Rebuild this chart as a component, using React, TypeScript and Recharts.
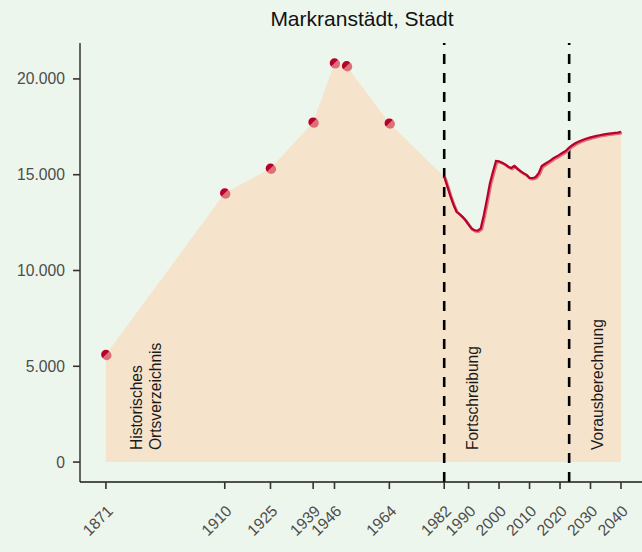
import React from 'react';
import { ComposedChart, Area, Line, XAxis, YAxis, ReferenceLine, ReferenceDot } from 'recharts';

const histYears = [1871, 1910, 1925, 1939, 1946, 1950, 1964];
const histPop = [5610, 14040, 15330, 17740, 20830, 20680, 17690];

const fortYears = [
  1982, 1983, 1984, 1985, 1986, 1987, 1988, 1989, 1990, 1991, 1992, 1993, 1994, 1995, 1996, 1997, 1998, 1999,
  2000, 2001, 2002, 2003, 2004, 2005, 2006, 2007, 2008, 2009, 2010, 2011, 2012, 2013, 2014, 2015, 2016, 2017,
  2018, 2019, 2020, 2021, 2022, 2023, 2024, 2025, 2026, 2027, 2028, 2029, 2030, 2031, 2032, 2033, 2034, 2035,
  2036, 2037, 2038, 2039, 2040,
];
const fortPop = [
  14900, 14400, 13900, 13450, 13080, 12950, 12800, 12620, 12400, 12180, 12100, 12080, 12200, 12900, 13700, 14550, 15150, 15720,
  15700, 15630, 15540, 15420, 15350, 15460, 15320, 15190, 15080, 14990, 14830, 14820, 14880, 15080, 15450, 15560, 15660, 15760,
  15880, 15960, 16060, 16160, 16260, 16420, 16540, 16640, 16720, 16790, 16850, 16900, 16950, 16990, 17030, 17060, 17090, 17120,
  17140, 17160, 17180, 17200, 17240,
];

const xTicks = [1871, 1910, 1925, 1939, 1946, 1964, 1982, 1990, 2000, 2010, 2020, 2030, 2040];
const yTicks = [0, 5000, 10000, 15000, 20000];
const yTickLabels = ['0', '5.000', '10.000', '15.000', '20.000'];
const periodLines = [1982, 2023];
const annoYears = [1871, 1982, 2023];
const annoTexts = [['Historisches', 'Ortsverzeichnis'], ['Fortschreibung'], ['Vorausberechnung']];
const annoOffsets = [[31, 50], [28], [28]];
const title = 'Markranstädt, Stadt';

const data = [
  ...histYears.map((y, i) => ({ year: y, area: histPop[i], hist: histPop[i], fort: null })),
  ...fortYears.map((y, i) => ({ year: y, area: fortPop[i], hist: null, fort: fortPop[i] })),
];

const FONT = '"Liberation Sans", Arial, Helvetica, sans-serif';
const BG = '#edf6ec';
const AREA = '#f6e3cb';
const DARK = '#b8002c';
const LIGHT = '#dc6f78';
const TICK_FS = 15.7;

const HistDot = (props: any) => {
  const { cx, cy, payload } = props;
  if (payload == null || payload.hist == null || cx == null || cy == null) return <g key={props.key} />;
  const r = 4.8;
  const k = r * 0.7071;
  return (
    <g key={props.key}>
      <circle cx={cx + 0.8} cy={cy + 0.8} r={r} fill={LIGHT} />
      <path d={`M ${cx + k} ${cy - k} A ${r} ${r} 0 0 0 ${cx - k} ${cy + k} Z`} fill={DARK} />
    </g>
  );
};

const XTick = (props: any) => {
  const { x, payload } = props;
  const tx = x + 8;
  const ty = 512;
  return (
    <text
      x={tx}
      y={ty}
      transform={`rotate(-45, ${tx}, ${ty})`}
      textAnchor="end"
      fontSize={TICK_FS}
      fontFamily={FONT}
      fill="#4d4d4d"
    >
      {payload.value}
    </text>
  );
};

const YTick = (props: any) => {
  const { x, y, payload } = props;
  const idx = yTicks.indexOf(payload.value);
  return (
    <text x={x} y={y} dy="0.355em" textAnchor="end" fontSize={TICK_FS} fontFamily={FONT} fill="#4d4d4d">
      {idx >= 0 ? yTickLabels[idx] : payload.value}
    </text>
  );
};

const makeAnno = (lines: string[], offs: number[]) => (p: any) => {
  const { cx, cy } = p;
  if (cx == null || cy == null) return <g />;
  return (
    <g>
      {lines.map((t, i) => {
        const ax = cx + offs[i];
        const ay = cy - 12;
        return (
          <text
            key={i}
            x={ax}
            y={ay}
            transform={`rotate(-90, ${ax}, ${ay})`}
            textAnchor="start"
            dominantBaseline="central"
            fontSize={15.6}
            fontFamily={FONT}
            fill="#1a1a1a"
          >
            {t}
          </text>
        );
      })}
    </g>
  );
};

export default function App() {
  return (
    <div style={{ position: 'absolute', left: 0, top: 0, width: 642, height: 552, background: BG }}>
      <svg width={642} height={40} style={{ position: 'absolute', left: 0, top: 0 }}>
        <text x={362} y={26} textAnchor="middle" fontSize={21} fontFamily={FONT} fill="#111">
          {title}
        </text>
      </svg>
      <div style={{ position: 'absolute', left: 0, top: 0 }}>
        <ComposedChart width={642} height={552} data={data} margin={{ top: 43, right: 0, bottom: 0, left: 0 }}>
          <XAxis
            dataKey="year"
            type="number"
            domain={[1862.5, 2046.9]}
            ticks={xTicks}
            interval={0}
            height={70}
            tickSize={7}
            allowDataOverflow
            axisLine={{ stroke: '#1a1a1a', strokeWidth: 1.3 }}
            tickLine={{ stroke: '#333', strokeWidth: 1.6 }}
            tick={<XTick />}
          />
          <YAxis
            type="number"
            domain={[-1040, 21875]}
            ticks={yTicks}
            interval={0}
            width={80}
            tickSize={7}
            tickMargin={8}
            allowDataOverflow
            axisLine={{ stroke: '#1a1a1a', strokeWidth: 1.3 }}
            tickLine={{ stroke: '#333', strokeWidth: 1.6 }}
            tick={<YTick />}
          />
          <Area
            dataKey="area"
            type="linear"
            stroke="none"
            fill={AREA}
            fillOpacity={1}
            isAnimationActive={false}
            dot={false}
            activeDot={false}
          />
          {periodLines.map((yr) => (
            <ReferenceLine key={yr} x={yr} stroke="#000" strokeWidth={2.6} strokeDasharray="10 9" />
          ))}
          {annoYears.map((yr, i) => (
            <ReferenceDot
              key={'a' + yr}
              x={yr}
              y={0}
              r={0}
              ifOverflow="visible"
              shape={makeAnno(annoTexts[i], annoOffsets[i])}
            />
          ))}
          <Line
            dataKey="fort"
            type="linear"
            stroke={LIGHT}
            strokeWidth={2.8}
            dot={false}
            activeDot={false}
            isAnimationActive={false}
            style={{ transform: 'translate(1px, 1px)' }}
          />
          <Line
            dataKey="fort"
            type="linear"
            stroke={DARK}
            strokeWidth={2.2}
            dot={false}
            activeDot={false}
            isAnimationActive={false}
          />
          <Line
            dataKey="hist"
            type="linear"
            stroke="none"
            dot={<HistDot />}
            activeDot={false}
            isAnimationActive={false}
          />
        </ComposedChart>
      </div>
    </div>
  );
}
